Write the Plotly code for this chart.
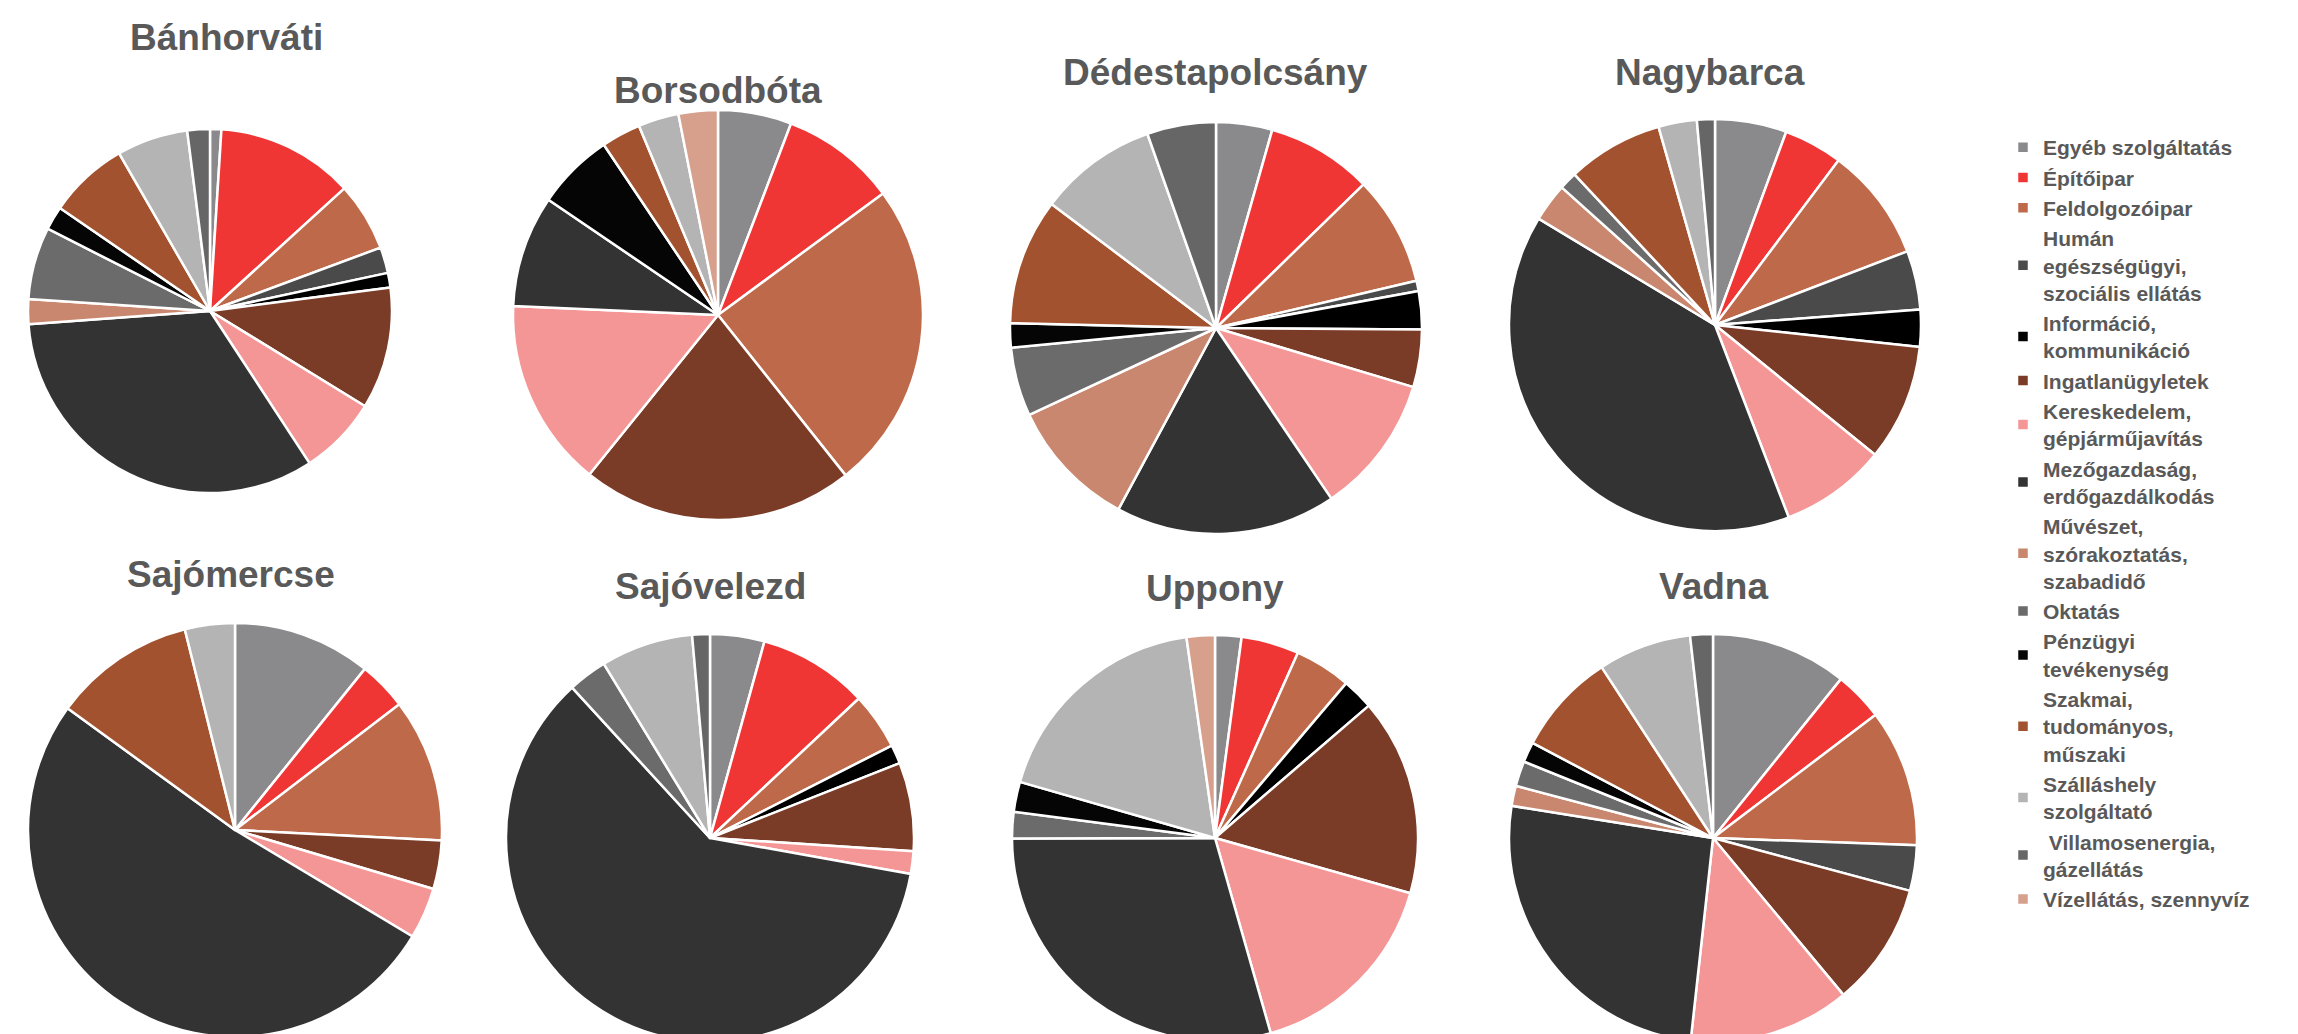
import plotly.graph_objects as go

W, H = 2298, 1034

categories = [
    "Egyéb szolgáltatás",
    "Építőipar",
    "Feldolgozóipar",
    "Humán<br>egészségügyi,<br>szociális ellátás",
    "Információ,<br>kommunikáció",
    "Ingatlanügyletek",
    "Kereskedelem,<br>gépjárműjavítás",
    "Mezőgazdaság,<br>erdőgazdálkodás",
    "Művészet,<br>szórakoztatás,<br>szabadidő",
    "Oktatás",
    "Pénzügyi<br>tevékenység",
    "Szakmai,<br>tudományos,<br>műszaki",
    "Szálláshely<br>szolgáltató",
    " Villamosenergia,<br>gázellátás",
    "Vízellátás, szennyvíz",
]

colors = ["#8a8a8c", "#f03535", "#be6a4a", "#4a4a4a", "#000000", "#7a3b27",
          "#f59696", "#333333", "#c8876e", "#6b6b6b", "#050505", "#a2522e",
          "#b4b4b4", "#666666", "#d6a08c"]

villages = ["Bánhorváti", "Borsodbóta", "Dédestapolcsány", "Nagybarca",
            "Sajómercse", "Sajóvelezd", "Uppony", "Vadna"]

# shares in %, legend order
banhorvati =      [1.0, 12.2, 6.1, 2.3, 1.3, 10.8, 7.0, 33.0, 2.2, 6.4, 2.1, 7.1, 6.3, 2.0, 0]
borsodbota =      [5.8, 9.1, 24.4, 0, 0, 21.5, 14.9, 8.8, 0, 0, 6.1, 3.1, 3.2, 0, 3.1]
dedestapolcsany = [4.4, 8.3, 8.6, 0.8, 3.0, 4.5, 10.9, 17.3, 10.2, 5.4, 1.9, 9.9, 9.3, 5.4, 0]
nagybarca =       [5.6, 4.6, 8.9, 4.6, 2.9, 9.1, 8.3, 39.3, 3.0, 1.4, 0, 7.5, 3.0, 1.4, 0]
sajomercse =      [10.8, 3.8, 11.2, 0, 0, 3.8, 4.0, 51.4, 0, 0, 0, 11.1, 3.9, 0, 0]
sajovelezd =      [4.3, 8.7, 4.5, 0, 1.5, 7.0, 1.8, 60.3, 0, 3.1, 0, 0, 7.3, 1.4, 0]
uppony =          [2.1, 4.6, 4.5, 0, 2.5, 15.7, 16.2, 29.4, 0, 2.1, 2.4, 0, 18.3, 0, 2.25]
vadna =           [10.8, 3.9, 10.9, 3.6, 0, 9.8, 12.8, 25.8, 1.6, 2.0, 1.6, 8.1, 7.4, 1.8, 0]

series = [banhorvati, borsodbota, dedestapolcsany, nagybarca,
          sajomercse, sajovelezd, uppony, vadna]

# pixel centre / radius of each pie and title position
centers = [(202, 303, 182), (710, 307, 205), (1208, 320, 206), (1707, 317, 206),
           (227, 822, 207), (702, 830, 204), (1207, 830, 203), (1705, 830, 204)]
title_pos = [(218, 30), (710, 82), (1207, 64), (1702, 64),
             (223, 566), (702, 578), (1207, 580), (1705, 578)]

fig = go.Figure()
for name, vals, (cx, cy, r) in zip(villages, series, centers):
    fig.add_trace(go.Pie(
        labels=categories,
        values=[v if v > 0 else None for v in vals],
        name=name,
        sort=False,
        direction="clockwise",
        rotation=0,
        textinfo="none",
        marker=dict(colors=colors, line=dict(color="white", width=2.5)),
        domain=dict(x=[(cx - r) / W, (cx + r) / W],
                    y=[max(0, 1 - (cy + r) / H), 1 - (cy - r) / H]),
        hovertemplate="%{label}: %{value}%<extra>" + name + "</extra>",
    ))

for name, (tx, ty) in zip(villages, title_pos):
    fig.add_annotation(
        x=tx / W, y=1 - ty / H, xref="paper", yref="paper",
        xanchor="center", yanchor="middle",
        text="<b>" + name + "</b>", showarrow=False,
        font=dict(family="Liberation Sans, Arial", size=37, color="#595959"),
    )

fig.update_layout(
    width=W, height=H,
    margin=dict(l=0, r=0, t=0, b=0),
    paper_bgcolor="white",
    plot_bgcolor="white",
    legend=dict(
        x=1995 / W, y=1 - 119 / H, xanchor="left", yanchor="top",
        traceorder="normal",
        font=dict(family="Liberation Sans, Arial", size=21, color="#595959", weight="bold"),
        bgcolor="rgba(0,0,0,0)",
    ),
)

fig.write_html("out.html")
